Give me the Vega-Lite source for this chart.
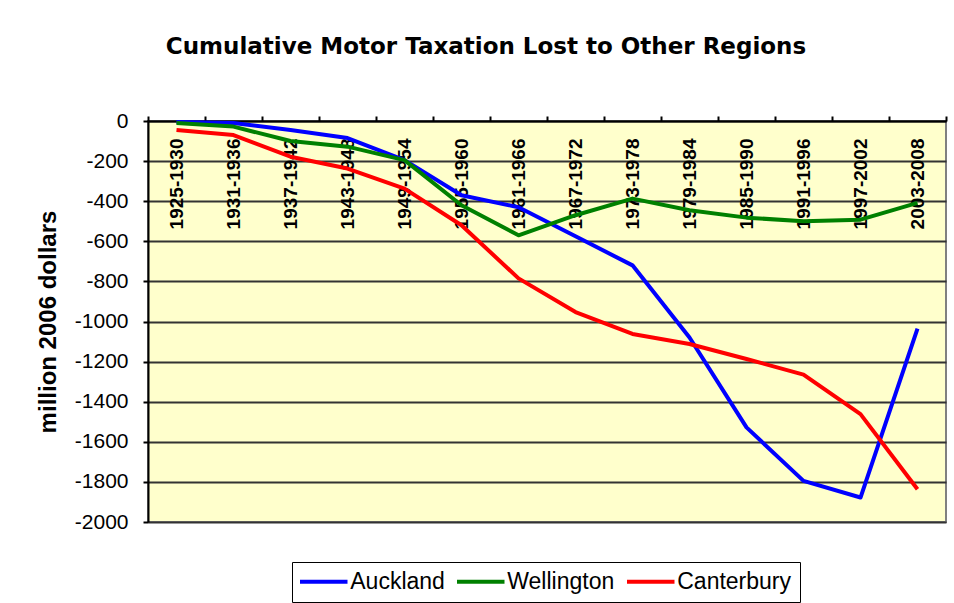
{
  "$schema": "https://vega.github.io/schema/vega-lite/v6.json",
  "width": 798,
  "height": 401,
  "autosize": {"type": "none"},
  "padding": {"left": 148, "top": 121, "right": 8, "bottom": 81},
  "background": "white",
  "title": {
    "text": "Cumulative Motor Taxation Lost to Other Regions",
    "font": "DejaVu Sans",
    "fontSize": 23,
    "fontWeight": "bold",
    "color": "#000000",
    "anchor": "middle",
    "frame": "group",
    "baseline": "alphabetic",
    "dx": -61,
    "offset": 33
  },
  "config": {
    "font": "Liberation Sans",
    "view": {"fill": "#FFFFCC", "stroke": "#808080", "strokeWidth": 2}
  },
  "data": {
    "values": [
      {"period": "1925-1930", "region": "Auckland", "value": -5},
      {"period": "1931-1936", "region": "Auckland", "value": -10},
      {"period": "1937-1942", "region": "Auckland", "value": -45},
      {"period": "1943-1948", "region": "Auckland", "value": -85},
      {"period": "1949-1954", "region": "Auckland", "value": -195},
      {"period": "1955-1960", "region": "Auckland", "value": -370},
      {"period": "1961-1966", "region": "Auckland", "value": -430},
      {"period": "1967-1972", "region": "Auckland", "value": -575},
      {"period": "1973-1978", "region": "Auckland", "value": -720},
      {"period": "1979-1984", "region": "Auckland", "value": -1080},
      {"period": "1985-1990", "region": "Auckland", "value": -1528},
      {"period": "1991-1996", "region": "Auckland", "value": -1795},
      {"period": "1997-2002", "region": "Auckland", "value": -1878},
      {"period": "2003-2008", "region": "Auckland", "value": -1035},
      {"period": "1925-1930", "region": "Wellington", "value": -10},
      {"period": "1931-1936", "region": "Wellington", "value": -28},
      {"period": "1937-1942", "region": "Wellington", "value": -100},
      {"period": "1943-1948", "region": "Wellington", "value": -128},
      {"period": "1949-1954", "region": "Wellington", "value": -195},
      {"period": "1955-1960", "region": "Wellington", "value": -420},
      {"period": "1961-1966", "region": "Wellington", "value": -570},
      {"period": "1967-1972", "region": "Wellington", "value": -470},
      {"period": "1973-1978", "region": "Wellington", "value": -387},
      {"period": "1979-1984", "region": "Wellington", "value": -445},
      {"period": "1985-1990", "region": "Wellington", "value": -482},
      {"period": "1991-1996", "region": "Wellington", "value": -500},
      {"period": "1997-2002", "region": "Wellington", "value": -492},
      {"period": "2003-2008", "region": "Wellington", "value": -408},
      {"period": "1925-1930", "region": "Canterbury", "value": -45},
      {"period": "1931-1936", "region": "Canterbury", "value": -70},
      {"period": "1937-1942", "region": "Canterbury", "value": -178},
      {"period": "1943-1948", "region": "Canterbury", "value": -237},
      {"period": "1949-1954", "region": "Canterbury", "value": -337},
      {"period": "1955-1960", "region": "Canterbury", "value": -520},
      {"period": "1961-1966", "region": "Canterbury", "value": -785},
      {"period": "1967-1972", "region": "Canterbury", "value": -953},
      {"period": "1973-1978", "region": "Canterbury", "value": -1062},
      {"period": "1979-1984", "region": "Canterbury", "value": -1112},
      {"period": "1985-1990", "region": "Canterbury", "value": -1187},
      {"period": "1991-1996", "region": "Canterbury", "value": -1265},
      {"period": "1997-2002", "region": "Canterbury", "value": -1462},
      {"period": "2003-2008", "region": "Canterbury", "value": -1837}
    ]
  },
  "mark": {"type": "line", "strokeWidth": 4, "strokeJoin": "round"},
  "encoding": {
    "x": {
      "field": "period",
      "type": "nominal",
      "sort": null,
      "bandPosition": 0.5,
      "scale": {"type": "band", "paddingInner": 0, "paddingOuter": 0},
      "axis": {
        "orient": "bottom",
        "offset": -401,
        "title": null,
        "grid": false,
        "tickBand": "extent",
        "domainColor": "#000000",
        "domainWidth": 2,
        "tickColor": "#000000",
        "tickWidth": 2,
        "tickSize": -5,
        "labelAngle": -90,
        "labelFontSize": 19,
        "labelFontWeight": "bold",
        "labelColor": "#000000",
        "labelPadding": 22
      }
    },
    "y": {
      "field": "value",
      "type": "quantitative",
      "scale": {"domain": [-2000, 0], "nice": false, "zero": false},
      "axis": {
        "title": "million 2006 dollars",
        "titleFontSize": 24,
        "titleFontWeight": "bold",
        "titleColor": "#000000",
        "titlePadding": 14,
        "values": [0, -200, -400, -600, -800, -1000, -1200, -1400, -1600, -1800, -2000],
        "labelExpr": "'' + datum.value",
        "grid": true,
        "gridColor": "#333333",
        "gridWidth": 2,
        "gridOpacity": 1,
        "domainColor": "#000000",
        "domainWidth": 2,
        "tickColor": "#000000",
        "tickWidth": 2,
        "tickSize": 5,
        "labelFontSize": 21,
        "labelColor": "#000000",
        "labelPadding": 15
      }
    },
    "color": {
      "field": "region",
      "type": "nominal",
      "scale": {"domain": ["Auckland", "Wellington", "Canterbury"], "range": ["#0000FF", "#008000", "#FF0000"]},
      "legend": {
        "title": null,
        "orient": "none",
        "legendX": 144,
        "legendY": 441,
        "direction": "horizontal",
        "strokeColor": "#000000",
        "padding": 8,
        "symbolType": "M-2.5,0H2.5",
        "symbolSize": 361,
        "symbolOffset": 12.25,
        "symbolStrokeWidth": 4,
        "labelFontSize": 23,
        "labelColor": "#000000",
        "labelOffset": 15,
        "columnPadding": 4
      }
    }
  }
}
